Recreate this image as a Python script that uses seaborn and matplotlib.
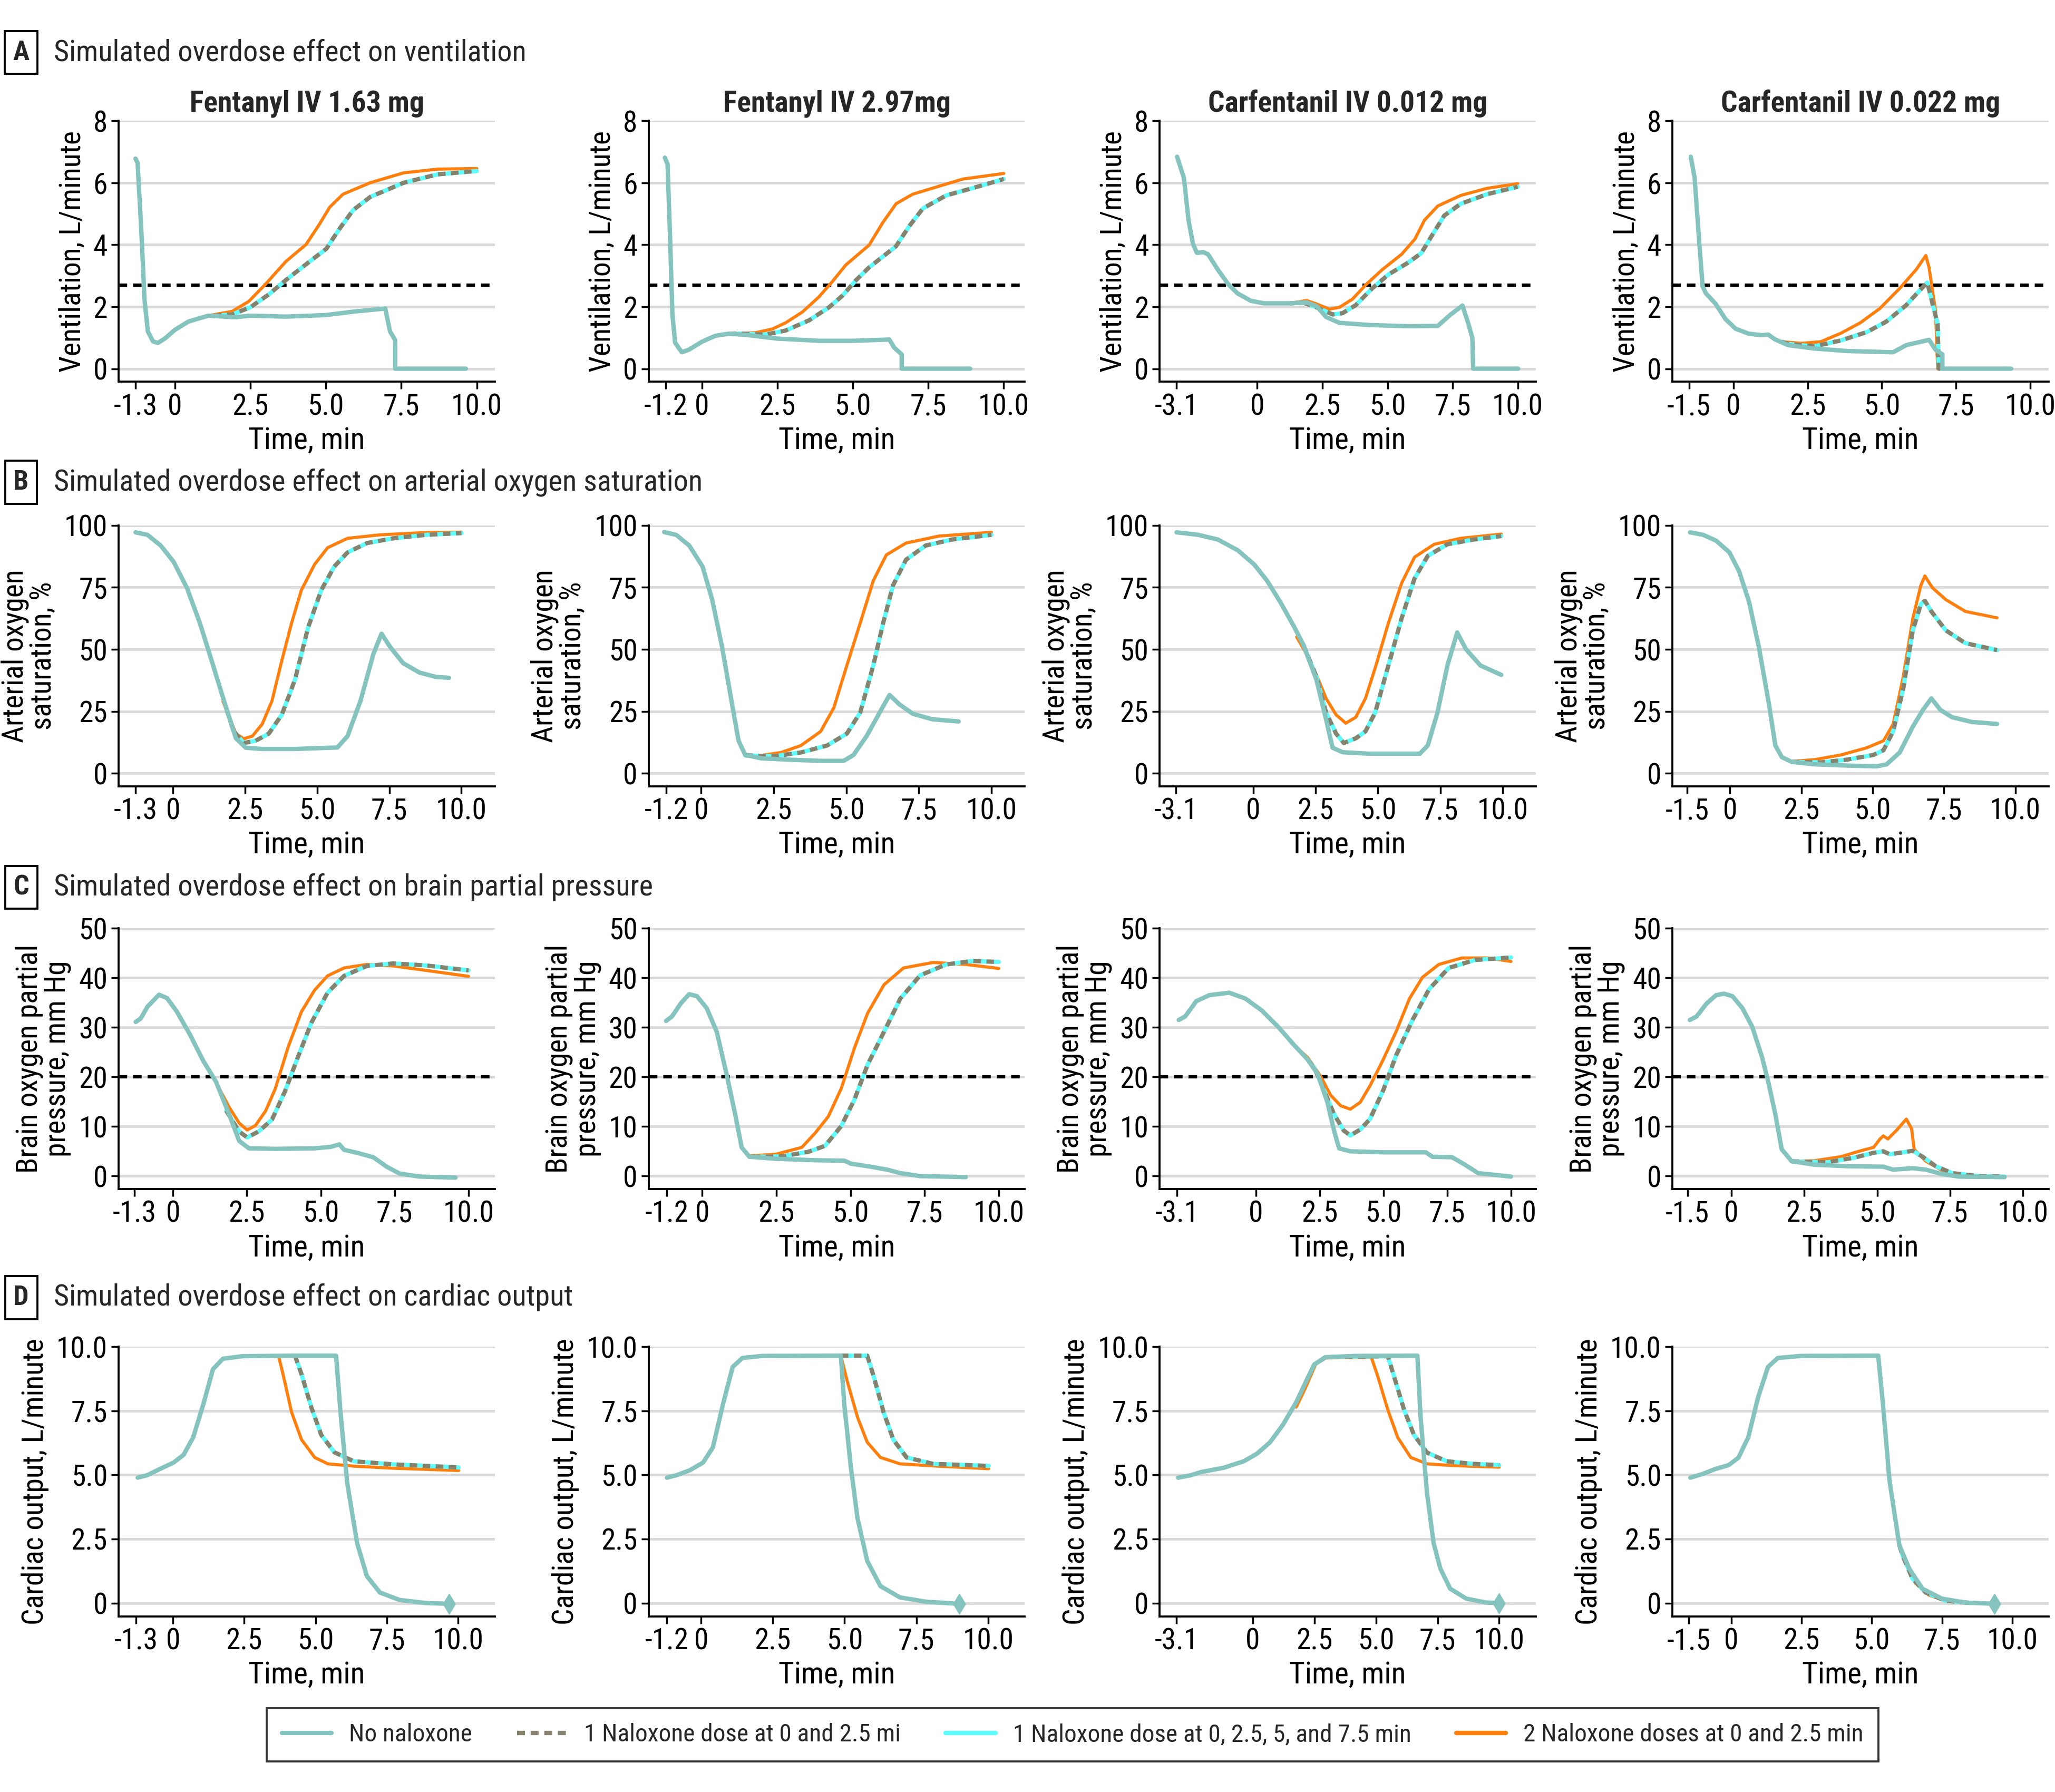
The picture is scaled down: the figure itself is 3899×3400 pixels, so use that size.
import matplotlib
matplotlib.use("Agg")
import matplotlib.pyplot as plt
import seaborn as sns
from matplotlib.lines import Line2D
from matplotlib import font_manager

# ---- A: ventilation (L/minute) ----
A1_none_t = [-1.3, -1.23, -1.11, -1.0, -0.89, -0.72, -0.56, -0.33, 0, 0.45, 1.11, 2.0, 2.5, 3.68, 5.0, 6.0, 6.97, 7.13, 7.3, 7.3, 9.64]
A1_none_y = [6.78, 6.64, 4.52, 2.21, 1.2, 0.88, 0.83, 0.97, 1.25, 1.52, 1.71, 1.66, 1.71, 1.68, 1.73, 1.85, 1.94, 1.2, 0.92, 0, 0]
A1_one_t = [1.3, 1.9, 2.5, 3.12, 3.68, 4.35, 5.02, 5.46, 5.91, 6.47, 7.58, 8.7, 10.0]
A1_one_y = [1.71, 1.75, 1.98, 2.4, 2.86, 3.37, 3.87, 4.52, 5.12, 5.54, 6.0, 6.27, 6.38]
A1_two_t = [1.11, 1.9, 2.45, 3.0, 3.68, 4.35, 4.79, 5.13, 5.57, 6.47, 7.58, 8.7, 10.0]
A1_two_y = [1.71, 1.85, 2.17, 2.72, 3.46, 4.01, 4.66, 5.21, 5.63, 6.0, 6.32, 6.44, 6.46]

A2_none_t = [-1.23, -1.14, -1.05, -0.98, -0.89, -0.67, -0.44, 0, 0.44, 0.89, 1.55, 2.5, 3.88, 5.0, 6.21, 6.37, 6.62, 6.62, 8.89]
A2_none_y = [6.81, 6.6, 4.03, 1.75, 0.84, 0.53, 0.61, 0.87, 1.06, 1.13, 1.08, 0.97, 0.9, 0.9, 0.94, 0.68, 0.46, 0, 0]
A2_one_t = [0.89, 1.33, 2.1, 2.77, 3.55, 4.21, 4.66, 5.1, 5.54, 6.43, 6.87, 7.32, 8.09, 9.09, 10.0]
A2_one_y = [1.13, 1.13, 1.1, 1.23, 1.56, 1.98, 2.36, 2.85, 3.27, 3.95, 4.6, 5.17, 5.59, 5.86, 6.12]
A2_two_t = [0.89, 1.77, 2.33, 2.77, 3.33, 3.88, 4.32, 4.77, 5.54, 5.99, 6.43, 6.98, 7.76, 8.65, 10.0]
A2_two_y = [1.13, 1.16, 1.28, 1.48, 1.83, 2.32, 2.81, 3.35, 3.99, 4.71, 5.32, 5.63, 5.86, 6.12, 6.3]

A3_none_t = [-3.08, -2.82, -2.64, -2.47, -2.32, -2.07, -1.89, -1.51, -1.13, -0.76, -0.25, 0.25, 1.26, 1.89, 2.27, 2.64, 3.15, 4.28, 5.79, 6.93, 7.43, 7.88, 8.11, 8.26, 8.29, 10.02]
A3_none_y = [6.84, 6.16, 4.79, 4.03, 3.74, 3.76, 3.69, 3.19, 2.74, 2.43, 2.19, 2.11, 2.11, 2.14, 2.02, 1.67, 1.48, 1.41, 1.37, 1.38, 1.75, 2.04, 1.44, 0.99, 0, 0]
A3_one_t = [1.26, 1.76, 2.27, 2.9, 3.27, 3.78, 4.41, 5.04, 5.79, 6.3, 6.68, 7.18, 7.81, 8.82, 10.0]
A3_one_y = [2.11, 2.13, 1.98, 1.75, 1.79, 2.05, 2.59, 3.04, 3.42, 3.73, 4.26, 4.94, 5.32, 5.63, 5.87]
A3_two_t = [1.26, 1.89, 2.27, 2.77, 3.15, 3.65, 4.16, 4.79, 5.54, 6.05, 6.42, 6.93, 7.81, 8.82, 10.0]
A3_two_y = [2.11, 2.2, 2.09, 1.92, 1.98, 2.24, 2.7, 3.19, 3.69, 4.18, 4.79, 5.25, 5.59, 5.82, 5.97]

A4_none_t = [-1.44, -1.31, -1.15, -1.04, -0.93, -0.6, -0.27, 0.07, 0.51, 0.95, 1.17, 1.39, 1.84, 2.72, 3.83, 5.38, 5.82, 6.59, 6.81, 7.04, 7.04, 9.36]
A4_none_y = [6.84, 6.16, 4.03, 2.66, 2.43, 2.09, 1.6, 1.29, 1.13, 1.08, 1.1, 0.95, 0.76, 0.65, 0.57, 0.53, 0.76, 0.93, 0.61, 0.46, 0, 0]
A4_one_t = [1.62, 1.84, 2.72, 3.61, 4.49, 5.15, 5.82, 6.26, 6.53, 6.7, 6.88, 6.92, 7.04]
A4_one_y = [0.87, 0.8, 0.72, 0.91, 1.18, 1.52, 2.05, 2.51, 2.78, 2.13, 1.44, 0, 0]
A4_two_t = [1.62, 2.28, 2.94, 3.61, 4.27, 4.93, 5.6, 6.15, 6.48, 6.59, 6.81, 6.88]
A4_two_y = [0.87, 0.82, 0.87, 1.14, 1.48, 1.94, 2.59, 3.19, 3.65, 3.27, 1.86, 0]

# ---- B: arterial oxygen saturation (%) ----
B1_none_t = [-1.3, -0.89, -0.43, 0.02, 0.48, 0.93, 1.39, 1.84, 2.18, 2.52, 3.09, 4.23, 5.7, 6.05, 6.5, 6.95, 7.23, 7.52, 7.98, 8.55, 9.11, 9.57]
B1_none_y = [97.2, 96.2, 91.9, 85.3, 74.8, 60.6, 43.5, 26.4, 14.1, 10.3, 9.8, 9.8, 10.4, 15.0, 29.2, 48.2, 56.3, 51.1, 44.4, 40.6, 38.9, 38.5]
B1_one_t = [1.84, 2.1, 2.45, 2.86, 3.32, 3.77, 4.23, 4.68, 5.14, 5.59, 6.05, 6.73, 7.64, 8.77, 10.0]
B1_one_y = [26.4, 17.0, 12.2, 13.1, 16.0, 23.6, 37.8, 58.7, 73.9, 83.4, 89.1, 92.9, 94.8, 96.2, 96.9]
B1_two_t = [1.73, 2.18, 2.45, 2.75, 3.09, 3.43, 3.77, 4.11, 4.45, 4.91, 5.36, 6.05, 7.18, 8.55, 10.0]
B1_two_y = [29.0, 16.0, 13.9, 15.0, 19.8, 29.2, 45.4, 60.6, 73.9, 84.3, 91.0, 94.8, 96.2, 97.0, 97.3]

B2_none_t = [-1.27, -0.86, -0.41, 0.05, 0.38, 0.72, 1.06, 1.29, 1.52, 2.08, 2.99, 4.12, 4.91, 5.25, 5.7, 6.15, 6.49, 6.83, 7.29, 7.96, 8.87]
B2_none_y = [97.3, 96.2, 91.9, 83.4, 70.1, 51.1, 28.3, 13.1, 7.4, 6.0, 5.5, 5.0, 5.0, 7.4, 15.0, 24.5, 31.6, 27.8, 24.0, 21.8, 20.9]
B2_one_t = [1.52, 2.53, 3.44, 4.34, 5.02, 5.48, 5.93, 6.27, 6.61, 7.06, 7.74, 8.64, 10.0]
B2_one_y = [7.2, 6.9, 8.4, 11.2, 16.0, 24.5, 43.5, 60.6, 75.8, 86.2, 91.9, 94.3, 96.2]
B2_two_t = [1.52, 2.08, 2.76, 3.44, 4.12, 4.57, 5.02, 5.48, 5.93, 6.38, 7.06, 8.19, 10.0]
B2_two_y = [7.2, 7.2, 8.4, 11.2, 16.9, 26.4, 43.5, 60.6, 77.7, 88.1, 92.9, 95.7, 97.2]

B3_none_t = [-3.08, -2.21, -1.42, -0.63, 0.03, 0.55, 1.08, 1.61, 2.0, 2.53, 2.92, 3.18, 3.58, 4.63, 6.68, 7.0, 7.39, 7.79, 8.18, 8.53, 9.11, 9.95]
B3_none_y = [97.2, 96.2, 94.3, 90.0, 84.3, 77.7, 69.1, 59.6, 52.0, 37.8, 21.7, 10.3, 8.5, 7.9, 7.9, 11.2, 24.5, 43.5, 56.8, 50.1, 43.5, 39.7]
B3_one_t = [2.0, 2.53, 2.92, 3.32, 3.63, 4.11, 4.5, 4.89, 5.42, 5.95, 6.47, 7.0, 7.79, 8.84, 9.95]
B3_one_y = [52.0, 39.0, 24.5, 16.0, 12.2, 14.1, 16.9, 24.5, 43.5, 62.5, 78.6, 87.7, 92.4, 94.3, 95.7]
B3_two_t = [1.74, 2.13, 2.53, 2.92, 3.32, 3.71, 4.11, 4.5, 4.89, 5.42, 5.95, 6.47, 7.26, 8.32, 9.95]
B3_two_y = [55.0, 48.2, 39.7, 30.2, 23.6, 20.2, 22.6, 30.2, 42.5, 60.6, 76.7, 87.2, 92.4, 94.8, 96.5]

B4_none_t = [-1.4, -0.94, -0.48, -0.02, 0.32, 0.67, 1.01, 1.36, 1.59, 1.82, 2.16, 2.97, 4.11, 5.15, 5.49, 5.95, 6.41, 6.76, 7.06, 7.38, 7.79, 8.48, 9.36]
B4_none_y = [97.2, 96.2, 93.8, 89.1, 81.5, 69.1, 51.1, 28.3, 11.2, 6.5, 4.6, 3.6, 3.1, 2.8, 3.6, 8.4, 18.8, 25.5, 30.2, 25.5, 22.6, 20.7, 19.9]
B4_one_t = [2.16, 3.2, 4.11, 5.03, 5.38, 5.72, 6.07, 6.41, 6.69, 6.83, 7.06, 7.56, 8.25, 9.36]
B4_one_y = [4.6, 4.4, 5.5, 7.4, 9.3, 16.9, 34.0, 57.7, 68.2, 69.6, 65.3, 57.7, 52.5, 49.7]
B4_two_t = [2.16, 2.97, 3.89, 4.8, 5.38, 5.72, 6.07, 6.41, 6.69, 6.83, 7.1, 7.56, 8.25, 9.36]
B4_two_y = [4.8, 5.5, 7.4, 10.3, 13.1, 19.8, 38.7, 62.5, 75.8, 79.6, 74.8, 70.1, 65.3, 62.7]

# ---- C: brain oxygen partial pressure (mm Hg) ----
C1_none_t = [-1.26, -1.09, -0.86, -0.47, -0.2, 0.13, 0.58, 1.02, 1.46, 1.91, 2.24, 2.57, 3.46, 4.79, 5.34, 5.63, 5.79, 6.23, 6.78, 7.23, 7.67, 8.34, 9.56]
C1_none_y = [31.1, 31.8, 34.2, 36.6, 35.9, 33.2, 28.5, 23.3, 19.0, 12.3, 7.1, 5.6, 5.5, 5.6, 5.9, 6.4, 5.3, 4.7, 3.8, 1.9, 0.5, -0.1, -0.3]
C1_one_t = [1.8, 2.24, 2.51, 2.9, 3.35, 3.79, 4.24, 4.68, 5.23, 5.79, 6.56, 7.45, 8.56, 10.0]
C1_one_y = [13.2, 9.0, 7.8, 9.0, 11.4, 17.1, 24.2, 30.9, 37.0, 40.4, 42.4, 42.9, 42.5, 41.5]
C1_two_t = [1.57, 1.91, 2.24, 2.51, 2.79, 3.13, 3.46, 3.9, 4.35, 4.79, 5.23, 5.79, 6.56, 7.45, 8.56, 10.0]
C1_two_y = [17.6, 13.8, 10.7, 9.3, 10.2, 13.1, 17.6, 26.1, 33.2, 37.5, 40.4, 42.0, 42.7, 42.4, 41.5, 40.3]

C2_none_t = [-1.22, -1.02, -0.73, -0.44, -0.18, 0.15, 0.49, 0.82, 1.11, 1.33, 1.59, 2.48, 3.81, 4.8, 5.02, 5.58, 6.24, 6.68, 7.35, 8.89]
C2_none_y = [31.3, 32.2, 34.8, 36.7, 36.3, 33.9, 29.1, 20.6, 12.5, 5.8, 3.9, 3.5, 3.2, 3.1, 2.5, 2.0, 1.3, 0.6, 0.0, -0.2]
C2_one_t = [1.7, 2.7, 3.58, 4.14, 4.69, 5.13, 5.58, 6.13, 6.68, 7.35, 8.23, 9.12, 10.0]
C2_one_y = [3.9, 4.0, 4.9, 6.1, 10.1, 15.4, 22.5, 29.1, 35.8, 40.5, 42.7, 43.4, 43.2]
C2_two_t = [1.59, 2.48, 3.36, 3.81, 4.25, 4.69, 5.13, 5.58, 6.13, 6.79, 7.79, 8.89, 10.0]
C2_two_y = [4.1, 4.4, 5.8, 8.7, 12.0, 17.7, 25.8, 32.9, 38.6, 42.0, 43.1, 42.7, 41.9]

C3_none_t = [-3.03, -2.78, -2.34, -1.83, -1.05, -0.41, 0.23, 0.87, 1.52, 2.03, 2.42, 2.8, 3.06, 3.26, 3.7, 4.99, 6.66, 6.92, 7.69, 8.2, 8.71, 10.0]
C3_none_y = [31.5, 32.2, 35.3, 36.5, 37.0, 35.8, 33.4, 30.1, 26.3, 23.5, 20.6, 14.9, 9.2, 5.6, 5.0, 4.8, 4.8, 3.9, 3.8, 2.3, 0.6, -0.1]
C3_one_t = [2.03, 2.29, 2.67, 3.06, 3.44, 3.7, 4.09, 4.47, 4.99, 5.5, 6.14, 6.79, 7.56, 8.59, 10.0]
C3_one_y = [23.5, 21.8, 17.3, 12.5, 9.2, 8.2, 9.4, 11.5, 17.3, 24.4, 31.5, 37.7, 42.0, 43.6, 44.1]
C3_two_t = [1.52, 2.03, 2.54, 2.93, 3.32, 3.7, 4.09, 4.47, 4.99, 5.5, 6.02, 6.53, 7.17, 8.07, 9.1, 10.0]
C3_two_y = [26.3, 23.9, 20.1, 16.3, 14.2, 13.5, 14.9, 18.2, 23.5, 29.2, 35.8, 40.1, 42.7, 44.0, 44.0, 43.3]

C4_none_t = [-1.42, -1.19, -0.85, -0.52, -0.25, 0.04, 0.38, 0.72, 1.06, 1.28, 1.51, 1.73, 2.07, 2.85, 3.98, 5.21, 5.55, 6.22, 6.67, 7.24, 7.8, 9.37]
C4_none_y = [31.5, 32.2, 34.8, 36.5, 36.8, 36.3, 33.9, 30.1, 23.9, 18.7, 12.5, 5.4, 3.0, 2.3, 2.0, 1.9, 1.3, 1.6, 1.3, 0.4, -0.1, -0.2]
C4_one_t = [2.07, 2.4, 3.3, 4.2, 4.88, 5.21, 5.44, 5.89, 6.22, 6.56, 7.01, 7.57, 8.47, 9.37]
C4_one_y = [3.0, 2.9, 2.8, 3.7, 4.7, 5.0, 4.4, 4.8, 5.1, 3.9, 2.0, 0.6, 0.0, -0.1]
C4_two_t = [2.07, 2.85, 3.75, 4.43, 4.88, 5.1, 5.21, 5.37, 5.66, 6.0, 6.18, 6.27, 6.67, 7.24, 8.02, 9.37]
C4_two_y = [3.0, 3.1, 3.9, 5.1, 5.8, 7.5, 8.1, 7.5, 9.2, 11.5, 9.6, 5.4, 3.0, 1.1, 0.1, -0.1]

# ---- D: cardiac output (L/minute) ----
D1_none_t = [-1.24, -0.9, -0.44, 0.02, 0.37, 0.71, 1.06, 1.4, 1.75, 2.44, 4.28, 5.72, 5.89, 6.11, 6.46, 6.8, 7.26, 7.95, 8.87, 9.68]
D1_none_y = [4.89, 4.99, 5.24, 5.48, 5.78, 6.47, 7.74, 9.12, 9.53, 9.63, 9.65, 9.65, 7.25, 4.69, 2.33, 1.05, 0.41, 0.12, 0.0, -0.03]
D1_one_t = [4.28, 4.51, 4.85, 5.2, 5.66, 6.34, 7.72, 10.02]
D1_one_y = [9.65, 8.92, 7.64, 6.56, 5.88, 5.53, 5.41, 5.29]
D1_two_t = [3.7, 3.86, 4.16, 4.51, 4.97, 5.43, 6.34, 7.72, 10.02]
D1_two_y = [9.65, 8.92, 7.44, 6.37, 5.68, 5.43, 5.34, 5.26, 5.17]

D2_none_t = [-1.19, -0.85, -0.39, 0.07, 0.41, 0.76, 1.1, 1.44, 2.13, 4.87, 4.99, 5.22, 5.45, 5.79, 6.25, 6.93, 7.85, 8.99]
D2_none_y = [4.89, 4.99, 5.18, 5.48, 6.07, 7.74, 9.21, 9.56, 9.64, 9.65, 7.74, 5.28, 3.31, 1.64, 0.66, 0.22, 0.05, -0.03]
D2_one_t = [4.87, 5.79, 6.02, 6.36, 6.7, 7.16, 8.08, 10.02]
D2_one_y = [9.65, 9.65, 8.82, 7.44, 6.37, 5.68, 5.43, 5.35]
D2_two_t = [4.87, 5.1, 5.45, 5.79, 6.25, 6.93, 8.08, 10.02]
D2_two_y = [9.65, 8.62, 7.25, 6.27, 5.68, 5.43, 5.35, 5.24]

D3_none_t = [-3.03, -2.5, -2.1, -1.17, -0.37, 0.16, 0.69, 1.22, 1.76, 2.15, 2.5, 2.95, 4.15, 6.68, 6.81, 7.07, 7.34, 7.61, 8.01, 8.67, 9.47, 10.0]
D3_none_y = [4.89, 4.99, 5.11, 5.28, 5.53, 5.82, 6.26, 6.95, 7.83, 8.62, 9.31, 9.59, 9.64, 9.65, 7.25, 4.3, 2.33, 1.35, 0.56, 0.17, 0.02, 0.0]
D3_one_t = [2.15, 2.5, 2.95, 5.48, 5.74, 6.14, 6.54, 7.07, 7.87, 8.94, 10.0]
D3_one_y = [8.62, 9.31, 9.59, 9.63, 8.82, 7.54, 6.56, 5.87, 5.53, 5.43, 5.38]
D3_two_t = [1.76, 2.15, 2.55, 2.95, 4.81, 5.08, 5.48, 5.88, 6.41, 7.07, 8.14, 10.0]
D3_two_y = [7.64, 8.42, 9.31, 9.56, 9.59, 8.82, 7.54, 6.46, 5.68, 5.43, 5.36, 5.3]

D4_none_t = [-1.45, -1.03, -0.56, -0.09, 0.26, 0.61, 0.96, 1.31, 1.66, 2.48, 5.23, 5.4, 5.63, 5.98, 6.33, 6.8, 7.5, 8.32, 9.37]
D4_none_y = [4.89, 5.03, 5.23, 5.38, 5.67, 6.47, 8.03, 9.21, 9.56, 9.64, 9.65, 7.74, 4.79, 2.26, 1.35, 0.56, 0.17, 0.02, -0.03]
D4_one_t = [5.98, 6.1, 6.45, 6.92, 7.62, 8.55]
D4_one_y = [2.26, 1.84, 0.95, 0.41, 0.09, 0.0]
D4_two_t = [5.98, 6.21, 6.57, 7.03, 7.62, 8.55]
D4_two_y = [2.26, 1.54, 0.76, 0.31, 0.09, 0.0]

drug_titles = ["Fentanyl IV 1.63 mg", "Fentanyl IV 2.97mg", "Carfentanil IV 0.012 mg", "Carfentanil IV 0.022 mg"]
start_times = [-1.3, -1.2, -3.1, -1.5]
legend_labels = ["No naloxone", "1 Naloxone dose at 0 and 2.5 mi",
                 "1 Naloxone dose at 0, 2.5, 5, and 7.5 min", "2 Naloxone doses at 0 and 2.5 min"]

section_titles = {"A": "Simulated overdose effect on ventilation",
                  "B": "Simulated overdose effect on arterial oxygen saturation",
                  "C": "Simulated overdose effect on brain partial pressure",
                  "D": "Simulated overdose effect on cardiac output"}
ylabels = {"A": "Ventilation, L/minute",
           "B": "Arterial oxygen\nsaturation, %",
           "C": "Brain oxygen partial\npressure, mm Hg",
           "D": "Cardiac output, L/minute"}
yticks = {"A": [0, 2, 4, 6, 8], "B": [0, 25, 50, 75, 100],
          "C": [0, 10, 20, 30, 40, 50], "D": [0, 2.5, 5.0, 7.5, 10.0]}
yticklabels = {"A": ["0", "2", "4", "6", "8"], "B": ["0", "25", "50", "75", "100"],
               "C": ["0", "10", "20", "30", "40", "50"], "D": ["0", "2.5", "5.0", "7.5", "10.0"]}
thresholds = {"A": 2.7, "C": 20}

panels = {
    "A": [(A1_none_t, A1_none_y, A1_one_t, A1_one_y, A1_two_t, A1_two_y),
          (A2_none_t, A2_none_y, A2_one_t, A2_one_y, A2_two_t, A2_two_y),
          (A3_none_t, A3_none_y, A3_one_t, A3_one_y, A3_two_t, A3_two_y),
          (A4_none_t, A4_none_y, A4_one_t, A4_one_y, A4_two_t, A4_two_y)],
    "B": [(B1_none_t, B1_none_y, B1_one_t, B1_one_y, B1_two_t, B1_two_y),
          (B2_none_t, B2_none_y, B2_one_t, B2_one_y, B2_two_t, B2_two_y),
          (B3_none_t, B3_none_y, B3_one_t, B3_one_y, B3_two_t, B3_two_y),
          (B4_none_t, B4_none_y, B4_one_t, B4_one_y, B4_two_t, B4_two_y)],
    "C": [(C1_none_t, C1_none_y, C1_one_t, C1_one_y, C1_two_t, C1_two_y),
          (C2_none_t, C2_none_y, C2_one_t, C2_one_y, C2_two_t, C2_two_y),
          (C3_none_t, C3_none_y, C3_one_t, C3_one_y, C3_two_t, C3_two_y),
          (C4_none_t, C4_none_y, C4_one_t, C4_one_y, C4_two_t, C4_two_y)],
    "D": [(D1_none_t, D1_none_y, D1_one_t, D1_one_y, D1_two_t, D1_two_y),
          (D2_none_t, D2_none_y, D2_one_t, D2_one_y, D2_two_t, D2_two_y),
          (D3_none_t, D3_none_y, D3_one_t, D3_one_y, D3_two_t, D3_two_y),
          (D4_none_t, D4_none_y, D4_one_t, D4_one_y, D4_two_t, D4_two_y)],
}

# layout (figure fractions) and axis limits
col_left = [0.0577, 0.3156, 0.5643, 0.8138]
col_width = 0.1831
row_box = {"A": (0.787, 0.9326), "B": (0.5613, 0.7068), "C": (0.3365, 0.482), "D": (0.098, 0.2485)}
header_y = {"A": 0.9707, "B": 0.7309, "C": 0.5048, "D": 0.2759}
ylims = {"A": (-0.42, 8), "B": (-5.2, 100), "C": (-2.6, 50), "D": (-0.52, 10)}
xlims = {"A": [(-1.86, 10.6), (-1.77, 10.7), (-3.75, 10.7), (-2.06, 10.62)],
         "B": [(-1.89, 11.16), (-1.81, 11.15), (-3.76, 11.34), (-2.02, 11.17)],
         "C": [(-1.84, 10.89), (-1.81, 10.88), (-3.78, 10.98), (-2.02, 10.88)],
         "D": [(-1.91, 11.29), (-1.83, 11.28), (-3.78, 11.49), (-2.09, 11.29)]}

TEAL = "#85C3BF"
GRAY = "#85836E"
CYAN = "#5EFCFC"
ORANGE = "#FF7F0E"
GRID = "#D9D9D9"

sns.set_theme(style="ticks")
available = {f.name for f in font_manager.fontManager.ttflist}
base_font = next((f for f in ["Liberation Sans Narrow", "Roboto Condensed", "Open Sans Condensed",
                              "Liberation Sans"] if f in available), "DejaVu Sans")
plt.rcParams["font.family"] = [base_font, "DejaVu Sans"]

fig = plt.figure(figsize=(3899 / 250, 3400 / 250), dpi=250)
fig.patch.set_facecolor("white")

for row in "ABCD":
    bottom, top = row_box[row]
    for c in range(4):
        none_t, none_y, one_t, one_y, two_t, two_y = panels[row][c]
        ax = fig.add_axes([col_left[c], bottom, col_width, top - bottom])
        ax.set_facecolor("white")
        ax.yaxis.grid(True, color=GRID, lw=1.4)
        ax.set_axisbelow(True)
        if row in thresholds:
            ax.axhline(thresholds[row], color="black", lw=1.8, ls=(0, (2.6, 1.8)), zorder=1.5)

        sns.lineplot(x=two_t, y=two_y, ax=ax, color=ORANGE, lw=1.7,
                     estimator=None, sort=False, zorder=3)
        sns.lineplot(x=one_t, y=one_y, ax=ax, color=CYAN, lw=2.3,
                     estimator=None, sort=False, zorder=3.1)
        sns.lineplot(x=one_t, y=one_y, ax=ax, color=GRAY, lw=2.3, linestyle=(0, (1.8, 1.3)),
                     estimator=None, sort=False, zorder=3.2)
        sns.lineplot(x=none_t, y=none_y, ax=ax, color=TEAL, lw=2.4,
                     estimator=None, sort=False, zorder=3.3)
        if row == "D":
            sns.scatterplot(x=[none_t[-1]], y=[none_y[-1]], ax=ax, marker="d", s=60,
                            color=TEAL, edgecolor=TEAL, linewidth=0.5, zorder=3.4)

        ax.set_xlim(*xlims[row][c])
        ax.set_ylim(*ylims[row])
        ax.set_xticks([start_times[c], 0, 2.5, 5.0, 7.5, 10.0])
        ax.set_xticklabels([f"{start_times[c]:.1f}", "0", "2.5", "5.0", "7.5", "10.0"])
        ax.set_yticks(yticks[row])
        ax.set_yticklabels(yticklabels[row])
        ax.tick_params(axis="both", labelsize=16, length=4, width=1, color="black",
                       labelcolor="black", pad=2)
        ax.set_xlabel("Time, min", fontsize=16.5, color="black", labelpad=3)
        ax.set_ylabel(ylabels[row], fontsize=16, color="black", labelpad=4, linespacing=1.0)
        sns.despine(ax=ax)
        for side in ("left", "bottom"):
            ax.spines[side].set_color("black")
            ax.spines[side].set_linewidth(1.1)
        if row == "A":
            ax.set_title(drug_titles[c], fontsize=16, fontweight="bold", pad=5)

    fig.text(0.0103, header_y[row], row, fontsize=15, fontweight="bold", ha="center", va="center",
             bbox=dict(boxstyle="square,pad=0.3", fc="white", ec="black", lw=1.1))
    fig.text(0.0262, header_y[row], section_titles[row], fontsize=16.2, ha="left", va="center")

handles = [Line2D([], [], color=TEAL, lw=2.4),
           Line2D([], [], color=GRAY, lw=2.4, ls=(0, (1.8, 1.3))),
           Line2D([], [], color=CYAN, lw=2.4),
           Line2D([], [], color=ORANGE, lw=2.4)]
leg = fig.legend(handles, legend_labels, loc="center", bbox_to_anchor=(0.522, 0.032), ncol=4,
                 fontsize=13.6, frameon=True, fancybox=False, edgecolor="black",
                 handlelength=2.0, handletextpad=0.7, columnspacing=1.8, borderpad=0.6)
leg.get_frame().set_linewidth(1.1)

fig.savefig("out.png", dpi=250, facecolor="white")
